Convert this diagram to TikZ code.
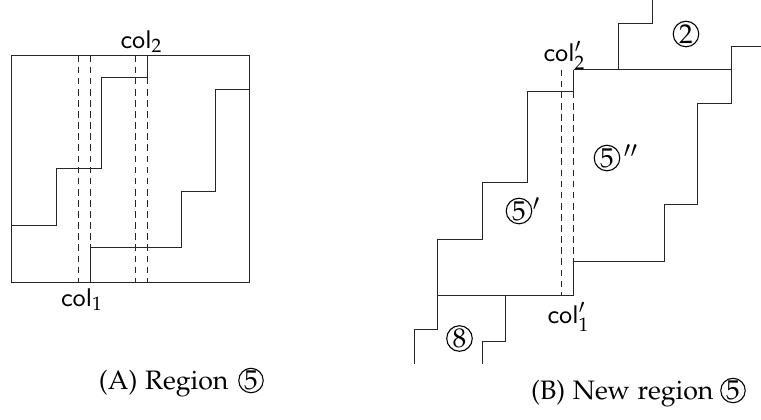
\documentclass[tikz,border=0pt]{standalone}
\usepackage[T1,TU]{fontenc}
\usepackage{mathpazo}
\newcommand{\palfont}{\fontencoding{T1}\fontfamily{pplx}\selectfont}
\tikzset{
  wall/.style={line width=0.4pt, draw=black!85},
  colline/.style={line width=0.4pt, draw=black!85, dash pattern=on 2.4pt off 1.6pt},
  lbl/.style={font=\fontsize{9.2}{11}\selectfont, inner sep=0pt},
  captxt/.style={font=\fontsize{9.6}{12}\selectfont\palfont, inner sep=0pt},
  cnum/.style={circle, draw=black, line width=0.4pt, minimum size=9.2pt, inner sep=0pt,
    font=\fontsize{9.8}{10}\selectfont\palfont},
  primetxt/.style={font=\fontsize{10.5}{12}\selectfont, inner sep=0pt},
}
\begin{document}
\begin{tikzpicture}[x=0.36pt,y=-0.36pt]
\useasboundingbox (0,0) rectangle (761,419);
% ---------- (A) ----------
\draw[wall] (11.5,55.5) rectangle (249.5,282.5);
\foreach \xx in {78.5,90.5,135.5,147.5} \draw[colline] (\xx,55.5) -- (\xx,282.5);
\draw[wall] (11.5,225.5) -- (56.5,225.5) -- (56.5,168.5) -- (101.5,168.5) -- (101.5,77.5) -- (147.5,77.5) -- (147.5,55.5);
\draw[wall] (90.5,282.5) -- (90.5,247.5) -- (181.5,247.5) -- (181.5,191.5) -- (215.5,191.5) -- (215.5,89.5) -- (249.5,89.5);
\node[lbl, anchor=base west] (c2) at (120,48.3) {\textsf{col}$_2$};
\node[lbl, anchor=base west] (c1) at (60.5,306) {\textsf{col}$_1$};
\node[captxt, anchor=base east] (capA) at (229,389) {(A) Region};
\node[cnum, minimum size=8.8pt] (capA5) at (251,380.5) {5};
% ---------- (B) ----------
\draw[wall] (652.5,0) -- (652.5,23.5) -- (618.5,23.5) -- (618.5,69.5);
\draw[wall] (573.5,69.5) -- (731.5,69.5);
\draw[wall] (731.5,69.5) -- (731.5,46.5) -- (761,46.5);
\draw[wall] (731.5,69.5) -- (731.5,103.5) -- (697.5,103.5) -- (697.5,204.5) -- (664.5,204.5) -- (664.5,261.5) -- (573.5,261.5) -- (573.5,295.5);
\draw[wall] (573.5,69.5) -- (573.5,91.5) -- (527.5,91.5) -- (527.5,182.5) -- (482.5,182.5) -- (482.5,239.5) -- (437.5,239.5) -- (437.5,329.5) -- (414.5,329.5) -- (414.5,363.5);
\draw[wall] (437.5,295.5) -- (573.5,295.5);
\draw[wall] (505.5,295.5) -- (505.5,341.5) -- (482.5,341.5) -- (482.5,363.5);
\draw[colline] (561.5,69.5) -- (561.5,295.5);
\draw[colline] (573.5,69.5) -- (573.5,295.5);
\node[lbl, anchor=base west] (c2p) at (543,61.5) {\textsf{col}$'_2$};
\node[lbl, anchor=base west] (c1p) at (547,323) {\textsf{col}$'_1$};
\node[cnum] (n2) at (686,34) {2};
\node[cnum] (n5b) at (607,158) {5};
\node[primetxt, anchor=north west] (p5b) at (623,144) {$''$};
\node[cnum] (n5a) at (519,211) {5};
\node[primetxt, anchor=north west] (p5a) at (532,197.5) {$'$};
\node[cnum] (n8) at (459.5,338.5) {8};
\node[captxt, anchor=base east] (capB) at (714,399) {(B) New region};
\node[cnum, minimum size=8.8pt] (capB5) at (733,390.5) {5};
\end{tikzpicture}
\end{document}
